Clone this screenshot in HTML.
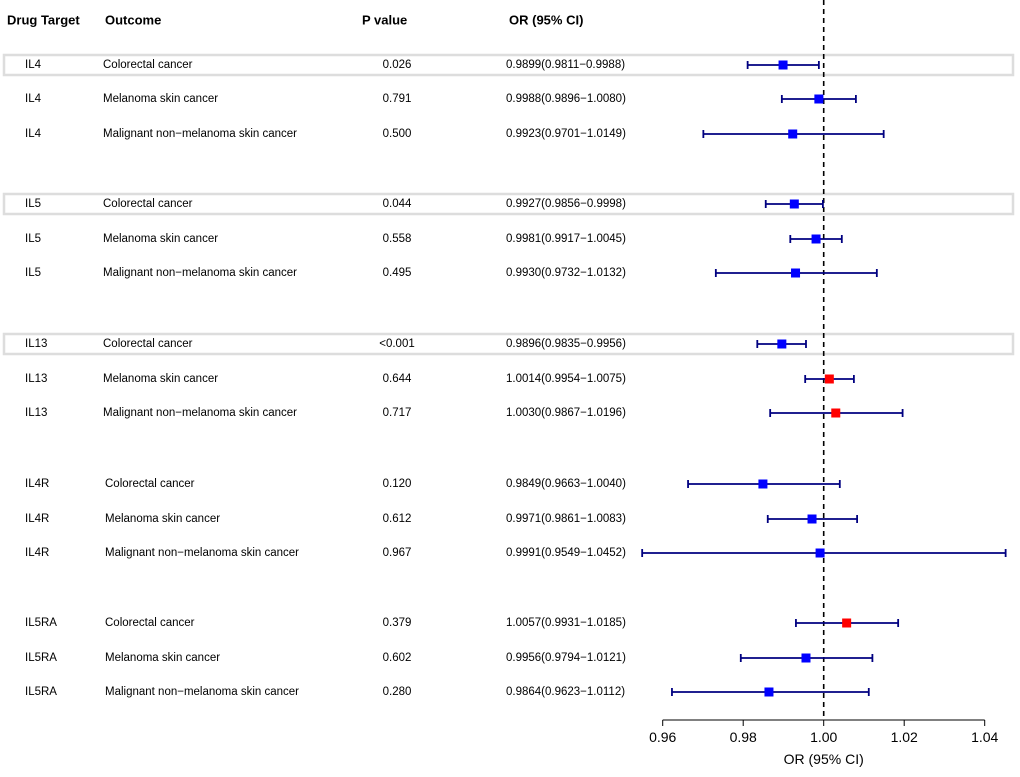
<!DOCTYPE html>
<html><head><meta charset="utf-8"><style>
body{margin:0;background:#fff;}
svg{font-family:"Liberation Sans",Arial,sans-serif;}
</style></head><body>
<svg id="c" width="1020" height="772"></svg>
<script>
const targets=["IL4","IL4","IL4","IL5","IL5","IL5","IL13","IL13","IL13","IL4R","IL4R","IL4R","IL5RA","IL5RA","IL5RA"];
const outcomes=["Colorectal cancer","Melanoma skin cancer","Malignant non\u2212melanoma skin cancer","Colorectal cancer","Melanoma skin cancer","Malignant non\u2212melanoma skin cancer","Colorectal cancer","Melanoma skin cancer","Malignant non\u2212melanoma skin cancer","Colorectal cancer","Melanoma skin cancer","Malignant non\u2212melanoma skin cancer","Colorectal cancer","Melanoma skin cancer","Malignant non\u2212melanoma skin cancer"];
const pvals=["0.026","0.791","0.500","0.044","0.558","0.495","<0.001","0.644","0.717","0.120","0.612","0.967","0.379","0.602","0.280"];
const ors=[0.9899,0.9988,0.9923,0.9927,0.9981,0.9930,0.9896,1.0014,1.0030,0.9849,0.9971,0.9991,1.0057,0.9956,0.9864];
const lows=[0.9811,0.9896,0.9701,0.9856,0.9917,0.9732,0.9835,0.9954,0.9867,0.9663,0.9861,0.9549,0.9931,0.9794,0.9623];
const highs=[0.9988,1.0080,1.0149,0.9998,1.0045,1.0132,0.9956,1.0075,1.0196,1.0040,1.0083,1.0452,1.0185,1.0121,1.0112];
const ticks=[0.96,0.98,1.00,1.02,1.04];
const boxed=[0,3,6];
const rowY=[65,99,134,204,239,273,344,379,413,484,519,553,623,658,692];
const svg=document.getElementById('c');
const NS='http://www.w3.org/2000/svg';
const xs=v=>662.7+(v-0.96)*(984.7-662.7)/0.08;
function mk(t,a,p){const e=document.createElementNS(NS,t);for(const k in a)e.setAttribute(k,a[k]);(p||svg).appendChild(e);return e;}
function txt(x,y,s,o){const e=mk('text',Object.assign({x:x,y:y,'font-size':11.5,fill:'#000','dominant-baseline':'central'},o||{}));e.textContent=s;return e;}
let h;
h=txt(7,20,'Drug Target',{'font-weight':'bold','font-size':13});

h=txt(105,20,'Outcome',{'font-weight':'bold','font-size':13});

h=txt(362,20,'P value',{'font-weight':'bold','font-size':13});

h=txt(509,20,'OR (95% CI)',{'font-weight':'bold','font-size':13});

boxed.forEach(i=>{const r=mk('rect',{x:4,y:rowY[i]-10,width:1009,height:20,fill:'none',stroke:'#ddd','stroke-width':2.5});
});
const d=mk('line',{x1:xs(1),x2:xs(1),y1:0,y2:720,stroke:'#000','stroke-width':1.6,'stroke-dasharray':'5,4'});

targets.forEach((t,i)=>{
const y=rowY[i];
let e=txt(25,y,t);
e=txt(i>=9?105:103,y,outcomes[i]);
e=txt(397,y,pvals[i],{'text-anchor':'middle'});
e=txt(506,y,ors[i].toFixed(4)+'('+lows[i].toFixed(4)+'\u2212'+highs[i].toFixed(4)+')');
const g=mk('g',{});
mk('line',{x1:xs(lows[i]),x2:xs(highs[i]),y1:y,y2:y,stroke:'#000080','stroke-width':1.8},g);
mk('line',{x1:xs(lows[i]),x2:xs(lows[i]),y1:y-4,y2:y+4,stroke:'#000080','stroke-width':1.8},g);
mk('line',{x1:xs(highs[i]),x2:xs(highs[i]),y1:y-4,y2:y+4,stroke:'#000080','stroke-width':1.8},g);
const s=mk('rect',{x:xs(ors[i])-4.5,y:y-4.5,width:9,height:9,fill:ors[i]>1?'#ff0000':'#0000ff'},g);

});
const ax=mk('g',{});
mk('line',{x1:xs(ticks[0]),x2:xs(ticks[ticks.length-1]),y1:720,y2:720,stroke:'#000','stroke-width':1},ax);
ticks.forEach(v=>{mk('line',{x1:xs(v),x2:xs(v),y1:720,y2:726,stroke:'#000'},ax);
const l=txt(xs(v),737,v.toFixed(2),{'text-anchor':'middle','font-size':14});});
h=txt(xs(1),759,'OR (95% CI)',{'text-anchor':'middle','font-size':14});

</script></body></html>
